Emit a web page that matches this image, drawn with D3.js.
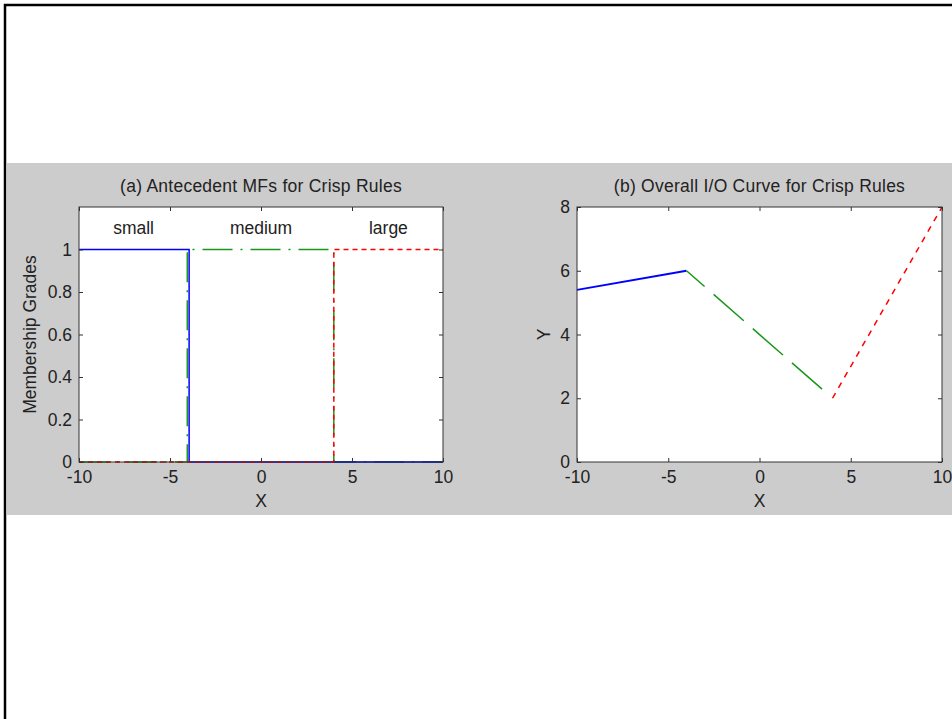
<!DOCTYPE html>
<html>
<head>
<meta charset="utf-8">
<script src="https://cdn.jsdelivr.net/npm/d3@7"></script>
<style>
  body { margin: 0; background: #fff; }
  svg text { font-family: "Liberation Sans", Arial, sans-serif; fill: #222; }
  .tick line, .box { stroke: #333; }
</style>
</head>
<body>
<div id="root"></div>
<script>
// ---- data ----
// (a) crisp membership functions (breakpoints)
const smallX  = [-10, -3.95, -3.95, 10];
const smallY  = [1, 1, 0, 0];
const mediumX = [-10, -4.05, -4.05, 4, 4, 10];
const mediumY = [0, 0, 1, 1, 0, 0];
const largeX  = [-10, 4, 4, 10];
const largeY  = [0, 0, 1, 1];
const mfLabels = ["small", "medium", "large"];
const mfLabelX = [-7, 0, 7];

// (b) overall I/O curve
const ioSmallX  = [-10, -4];
const ioSmallY  = [5.4, 6];
const ioMediumX = [-4, 3.7];
const ioMediumY = [6, 2.15];
const ioLargeX  = [4, 10];
const ioLargeY  = [2, 8];

const xTicks = [-10, -5, 0, 5, 10];
const yTicksA = [0, 0.2, 0.4, 0.6, 0.8, 1];
const yTicksB = [0, 2, 4, 6, 8];

const W = 952, H = 719;
const fs = 17.5;

const svg = d3.select("#root").append("svg")
    .attr("width", W).attr("height", H);

// figure background band
svg.append("rect").attr("x", 7).attr("y", 163).attr("width", W).attr("height", 352)
    .attr("fill", "#cccccc");
// outer frame
svg.append("rect").attr("x", 5).attr("y", 5).attr("width", 1200).attr("height", 1200)
    .attr("fill", "none").attr("stroke", "#000").attr("stroke-width", 2.5);

function zip(xs, ys) { return xs.map((v, i) => [v, ys[i]]); }

function panel(opt) {
    const g = svg.append("g").attr("transform", "translate(" + opt.left + "," + opt.top + ")");
    const x = d3.scaleLinear().domain([-10, 10]).range([0, opt.width]);
    const y = d3.scaleLinear().domain(opt.yDomain).range([opt.height, 0]);

    g.append("rect").attr("width", opt.width).attr("height", opt.height).attr("fill", "#fff");

    const line = d3.line().x(d => x(d[0])).y(d => y(d[1]));
    opt.series.forEach(s => {
        g.append("path")
            .datum(zip(s.x, s.y))
            .attr("d", line)
            .attr("fill", "none")
            .attr("stroke", s.color)
            .attr("stroke-width", s.width || 1.5)
            .attr("stroke-dasharray", s.dash || null)
            .attr("stroke-dashoffset", s.offset || 0);
    });

    // axes with inward ticks (box on)
    const tl = 4;
    const bottom = g.append("g").attr("transform", "translate(0," + opt.height + ")")
        .call(d3.axisBottom(x).tickValues(xTicks).tickSizeInner(-tl).tickSizeOuter(0).tickPadding(9));
    g.append("g").call(d3.axisTop(x).tickValues(xTicks).tickSizeInner(-tl).tickSizeOuter(0).tickFormat(""));
    g.append("g")
        .call(d3.axisLeft(y).tickValues(opt.yTicks).tickSizeInner(-tl).tickSizeOuter(0).tickPadding(7)
            .tickFormat(opt.yFormat));
    g.append("g").attr("transform", "translate(" + opt.width + ",0)")
        .call(d3.axisRight(y).tickValues(opt.yTicks).tickSizeInner(-tl).tickSizeOuter(0).tickFormat(""));
    g.selectAll(".domain").remove();
    g.selectAll(".tick text").style("font-size", fs + "px").attr("fill", "#222");
    bottom.selectAll(".tick text").text(d => d < 0 ? "-" + Math.abs(d) : d);

    g.append("rect").attr("class", "box").attr("width", opt.width).attr("height", opt.height)
        .attr("fill", "none").attr("stroke-width", 1);

    // title and labels
    g.append("text").attr("x", opt.width / 2).attr("y", -15)
        .attr("text-anchor", "middle").style("font-size", fs + "px")
        .style("letter-spacing", "0.25px").text(opt.title);
    g.append("text").attr("x", opt.width / 2).attr("y", opt.height + 45)
        .attr("text-anchor", "middle").style("font-size", fs + "px").text("X");
    g.append("text")
        .attr("transform", "translate(" + opt.yLabelX + "," + (opt.height / 2) + ")rotate(-90)")
        .attr("text-anchor", "middle").style("font-size", fs + "px").text(opt.yLabel);

    return {g, x, y};
}

const a = panel({
    left: 79, top: 207, width: 364, height: 255,
    yDomain: [0, 1.2], yTicks: yTicksA, yFormat: d3.format("~g"),
    title: "(a) Antecedent MFs for Crisp Rules",
    yLabel: "Membership Grades", yLabelX: -43,
    series: [
        {x: mediumX, y: mediumY, color: "#1a961a", dash: "30,8,2,8"},
        {x: smallX, y: smallY, color: "#0000ff"},
        {x: largeX, y: largeY, color: "#ff0000", dash: "5,4"}
    ]
});
a.g.selectAll(".mflabel").data(mfLabels).enter().append("text")
    .attr("class", "mflabel")
    .attr("x", (d, i) => a.x(mfLabelX[i]))
    .attr("y", a.y(1.1) + 6)
    .attr("text-anchor", "middle").style("font-size", fs + "px")
    .text(d => d);

panel({
    left: 577, top: 207, width: 365, height: 255,
    yDomain: [0, 8], yTicks: yTicksB, yFormat: d3.format("d"),
    title: "(b) Overall I/O Curve for Crisp Rules",
    yLabel: "Y", yLabelX: -27,
    series: [
        {x: ioSmallX, y: ioSmallY, color: "#0000ff", width: 2},
        {x: ioMediumX, y: ioMediumY, color: "#1a961a", dash: "40,12", offset: 16},
        {x: ioLargeX, y: ioLargeY, color: "#ff0000", dash: "6,6"}
    ]
});
</script>
</body>
</html>
